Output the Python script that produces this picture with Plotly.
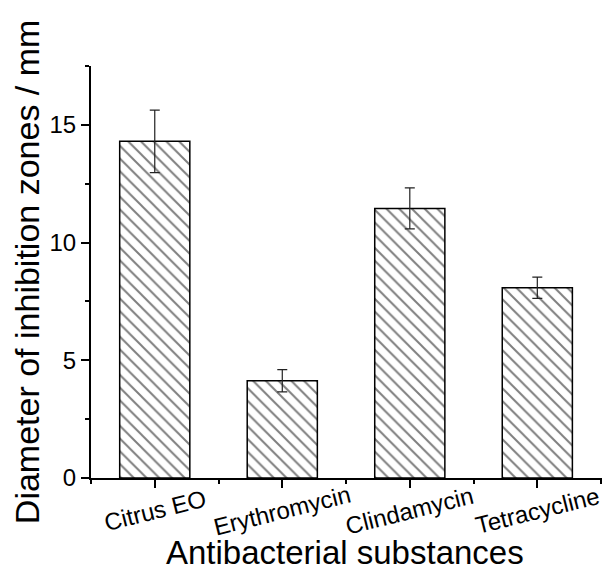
import plotly.graph_objects as go

categories = ["Citrus EO", "Erythromycin", "Clindamycin", "Tetracycline"]
values = [14.3, 4.13, 11.45, 8.08]
errors = [1.33, 0.47, 0.87, 0.45]
y_ticks = [0, 5, 10, 15]

positions = list(range(len(categories)))
FONT = "Liberation Sans, Arial, sans-serif"

fig = go.Figure()
fig.add_trace(go.Bar(
    x=positions, y=values, width=0.55,
    marker=dict(color="white", line=dict(color="black", width=1.5),
                pattern=dict(shape="\\", fgcolor="black", bgcolor="white", size=9, solidity=0.22)),
    error_y=dict(type="data", array=errors, color="#222", thickness=1.2, width=5),
    showlegend=False,
))

fig.update_layout(
    width=602, height=564,
    margin=dict(l=83, r=0, t=58, b=94),
    paper_bgcolor="white", plot_bgcolor="white",
    font=dict(family=FONT, size=24, color="black"),
    xaxis=dict(range=[-0.5, 3.57], tickvals=positions, ticktext=["" for _ in categories],
               showline=True, linecolor="black", linewidth=2, ticks="outside", ticklen=8,
               tickwidth=1.5, tickcolor="black", showgrid=False, zeroline=False,
               minor=dict(tickvals=[p + 0.5 for p in [-1] + positions], ticks="outside",
                          ticklen=4, tickwidth=1.5, tickcolor="black")),
    yaxis=dict(range=[0, 17.5], tickvals=y_ticks, showline=True, linecolor="black", linewidth=2,
               ticks="outside", ticklen=8, tickwidth=1.5, tickcolor="black", showgrid=False,
               zeroline=False, tickfont=dict(size=24),
               minor=dict(dtick=2.5, tick0=0, ticks="outside", ticklen=4, tickwidth=1.5,
                          tickcolor="black")),
)

for p, name in zip(positions, categories):
    fig.add_annotation(x=p, y=-0.078, xref="x", yref="paper", text=name, showarrow=False,
                       textangle=-14, xanchor="center", yanchor="middle",
                       font=dict(size=24, family=FONT))

fig.add_annotation(x=0.49, y=-0.18, xref="paper", yref="paper", text="Antibacterial substances",
                   showarrow=False, xanchor="center", yanchor="middle", borderpad=0,
                   font=dict(size=33, family=FONT))
fig.add_annotation(x=-0.123, y=0.5, xref="paper", yref="paper",
                   text="Diameter of inhibition zones / mm", textangle=-90, showarrow=False,
                   xanchor="center", yanchor="middle", borderpad=0,
                   font=dict(size=34, family=FONT))

fig.write_html("out.html")
